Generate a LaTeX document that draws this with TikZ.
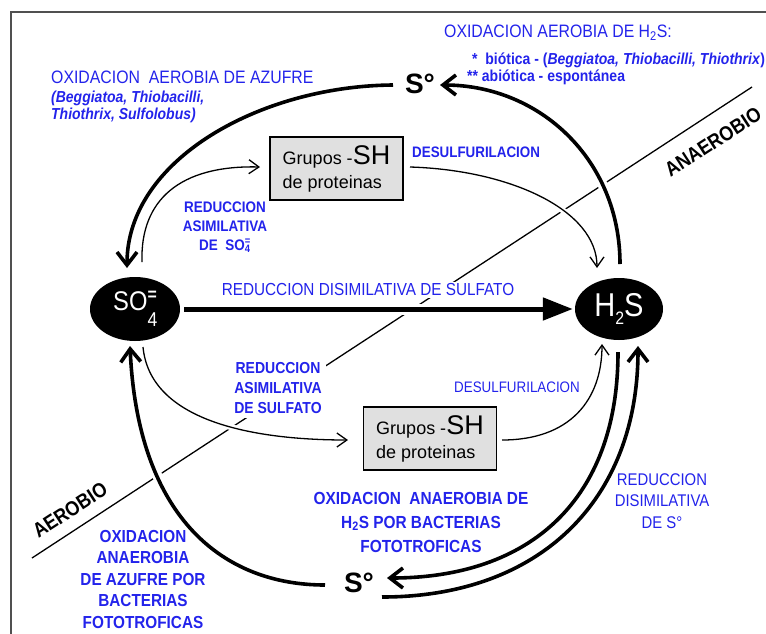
\documentclass[tikz,border=0pt]{standalone}
\usepackage{fontspec}
\setmainfont{Liberation Sans}
\newfontfamily\nar[FakeStretch=0.88]{Liberation Sans}
\usetikzlibrary{arrows.meta,shapes.geometric}
\definecolor{lblue}{RGB}{35,35,235}
\definecolor{boxgray}{RGB}{224,224,224}
\definecolor{framegray}{RGB}{80,80,80}
\begin{document}
\begin{tikzpicture}[x=1pt,y=-1pt,
  lbl/.style={text=lblue, align=center, inner sep=1pt},
  thickarc/.style={line width=3.6pt, -{Straight Barb[length=13pt,width=20pt]},
     preaction={draw=white,line width=10pt,-}},
  thinarc/.style={line width=1.3pt, -{Straight Barb[length=10pt,width=14pt]},
     preaction={draw=white,line width=6pt,-}},
  protbox/.style={draw=black, line width=1.2pt, fill=boxgray, minimum width=133pt,
     minimum height=63pt, align=left, inner sep=0pt, font={\fontsize{18}{24}\selectfont}},
  blob/.style={ellipse, fill=black, text=white, inner sep=0pt},
  sulfur/.style={font={\bfseries\fontsize{28}{28}\selectfont}, inner sep=1pt},
  zone/.style={font={\nar\bfseries\fontsize{20.5}{20.5}\selectfont}, rotate=33, inner sep=0pt}
]
\useasboundingbox (0,0) rectangle (766,633);
\draw[framegray, line width=2pt] (11,640) -- (11,12) -- (770,12);

% aerobic / anaerobic divide
\coordinate (dl1) at (32,558);
\coordinate (dl2) at (752,87);
\draw[line width=1.3pt] (dl1) -- (dl2);
\node[zone] (anaer) at (713,142) {ANAEROBIO};
\node[zone] (aer) at (70,510) {AEROBIO};

% labels
\node[lbl, anchor=west, font={\nar\fontsize{18}{18}\selectfont}] (t1) at (443,33) {OXIDACION AEROBIA DE H\textsubscript{2}S:};
\node[lbl, anchor=west, font={\nar\bfseries\fontsize{15.9}{16}\selectfont}] (t2) at (471,60) {*\ \ bi\'otica - (\textit{Beggiatoa, Thiobacilli, Thiothrix})};
\node[lbl, anchor=west, font={\nar\bfseries\fontsize{15.9}{16}\selectfont}] (t3) at (466,77) {** abi\'otica - espont\'anea};
\node[lbl, anchor=west, font={\nar\fontsize{18}{18}\selectfont}] (t4) at (50,77) {OXIDACION\ \ AEROBIA DE AZUFRE};
\node[lbl, anchor=north west, align=left, font={\nar\bfseries\itshape\fontsize{15.9}{16.5}\selectfont}] (t5) at (50,90) {(Beggiatoa, Thiobacilli,\\Thiothrix, Sulfolobus)};
\node[lbl, anchor=west, font={\nar\bfseries\fontsize{15.2}{15}\selectfont}] (t6) at (411,152) {DESULFURILACION};
\node[lbl, font={\nar\bfseries\fontsize{15.3}{19}\selectfont}] (t7) at (225,227) {REDUCCION\\ASIMILATIVA\\DE\ \ SO\makebox[0pt][l]{\textsubscript{4}}\textsuperscript{=}};
\node[lbl, fill=white, inner sep=2pt, font={\nar\fontsize{17.4}{18}\selectfont}] (t8) at (368,290) {REDUCCION DISIMILATIVA DE SULFATO};
\node[lbl, fill=white, inner sep=4pt, font={\nar\bfseries\fontsize{15.9}{20}\selectfont}] (t9) at (278,388) {REDUCCION\\ASIMILATIVA\\DE SULFATO};
\node[lbl, font={\nar\fontsize{15.2}{15}\selectfont}] (t10) at (517,387) {DESULFURILACION};
\node[lbl, font={\nar\bfseries\fontsize{17.5}{24}\selectfont}] (t11) at (421,522) {OXIDACION\ \ ANAEROBIA DE\\H\textsubscript{2}S POR BACTERIAS\\FOTOTROFICAS};
\node[lbl, font={\nar\fontsize{16.9}{21.5}\selectfont}] (t12) at (662,501) {REDUCCION\\DISIMILATIVA\\DE S\textdegree};
\node[lbl, font={\nar\bfseries\fontsize{17.4}{21.5}\selectfont}] (t13) at (143,579) {OXIDACION\\ANAEROBIA\\DE AZUFRE POR\\BACTERIAS\\FOTOTROFICAS};

% main species
\node[blob, minimum width=90pt, minimum height=64pt] (so4) at (135,309)
  {\nar\fontsize{27}{27}\selectfont SO\makebox[0pt][l]{\raisebox{-16pt}{\fontsize{20}{20}\selectfont 4}}\raisebox{10pt}{\bfseries\fontsize{18}{18}\selectfont =}\hspace{2pt}};
\node[blob, minimum width=88pt, minimum height=62pt] (h2s) at (619,309)
  {\nar\fontsize{33}{33}\selectfont H\raisebox{-8pt}{\fontsize{18}{18}\selectfont 2}S};
\node[sulfur] (stop) at (420,84) {S\textdegree};
\node[sulfur] (sbot) at (359,583) {S\textdegree};
\node[protbox] (box1) at (336.5,168.5) {Grupos -{\fontsize{27}{27}\selectfont SH}\\de proteinas};
\node[protbox] (box2) at (430,438.5) {Grupos -{\fontsize{27}{27}\selectfont SH}\\de proteinas};

% connector end points
\coordinate (a1s) at (620,264); \coordinate (a1e) at (440,85);
\coordinate (a2s) at (393,85);  \coordinate (a2e) at (127,268);
\coordinate (a3s) at (142,262); \coordinate (a3e) at (260,167);
\coordinate (a4s) at (410,167); \coordinate (a4e) at (597,268);
\coordinate (a6s) at (143,347); \coordinate (a6e) at (348,440);
\coordinate (a7s) at (502,440); \coordinate (a7e) at (602,344);
\coordinate (a8s) at (618,352); \coordinate (a8e) at (387,578);
\coordinate (a9s) at (382,597); \coordinate (a9e) at (638,346);
\coordinate (a10s) at (325,585); \coordinate (a10e) at (130,346);

% connectors
\draw[line width=5pt, -{Triangle[length=30pt,width=22pt]}, shorten <=4pt, shorten >=2pt,
      preaction={draw=white,line width=11pt,-}] (so4) -- (h2s);
\draw[thickarc] (a1s) .. controls (620,160) and (540,85) .. (a1e);
\draw[thickarc] (a2s) .. controls (260,86) and (127,160) .. (a2e);
\draw[thinarc] (a3s) .. controls (140,200) and (180,165) .. (a3e);
\draw[thinarc] (a4s) .. controls (510,170) and (597,210) .. (a4e);
\draw[thinarc] (a6s) .. controls (150,420) and (250,440) .. (a6e);
\draw[thinarc] (a7s) .. controls (570,440) and (602,400) .. (a7e);
\draw[thickarc] (a8s) .. controls (618,500) and (530,578) .. (a8e);
\draw[thickarc] (a9s) .. controls (540,597) and (638,500) .. (a9e);
\draw[thickarc] (a10s) .. controls (225,585) and (138,520) .. (a10e);
\end{tikzpicture}
\end{document}
